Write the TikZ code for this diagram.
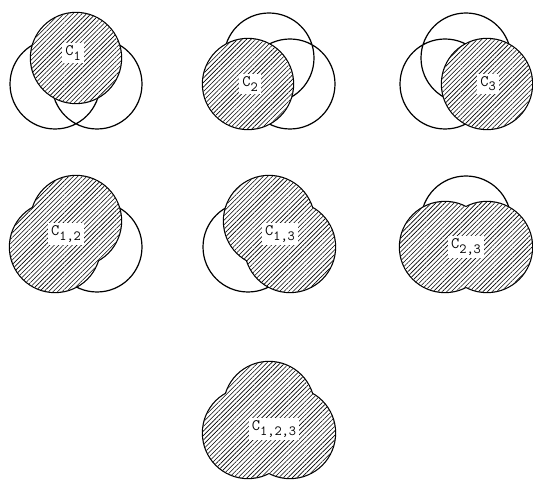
\documentclass[tikz,border=0pt]{standalone}
\usetikzlibrary{patterns.meta}
\newcommand\lowsub[1]{\raisebox{-.6ex}{\fontsize{14}{14}\selectfont#1}}

\begin{document}
\begin{tikzpicture}[x=1pt,y=1pt,
  ring/.style={line width=1.2pt},
  rim/.style={line width=2.4pt},
  hatch/.style={pattern={Lines[angle=45,distance=3.2pt,line width=0.6pt]}},
  tag/.style={fill=white,inner sep=3pt,font=\fontsize{16}{16}\ttfamily}]
\useasboundingbox (0,0) rectangle (533,485);
\def\rr{45pt}

% Row 1
\begin{scope}[shift={(76,401)}]
\coordinate (T) at (0,26); \coordinate (L) at (-21,0); \coordinate (R) at (21,0);
\draw[ring] (L) circle (\rr) (R) circle (\rr);
\draw[rim] (T) circle (\rr);
\fill[white] (T) circle (\rr);
\fill[hatch] (T) circle (\rr);
\node[tag] (c1) at (-3,31) {C\lowsub{1}};
\end{scope}

\begin{scope}[shift={(269,401)}]
\coordinate (T) at (0,26); \coordinate (L) at (-21,0); \coordinate (R) at (21,0);
\draw[ring] (T) circle (\rr) (R) circle (\rr);
\draw[rim] (L) circle (\rr);
\fill[white] (L) circle (\rr);
\fill[hatch] (L) circle (\rr);
\node[tag] (c2) at (-19,0) {C\lowsub{2}};
\end{scope}

\begin{scope}[shift={(466,401)}]
\coordinate (T) at (0,26); \coordinate (L) at (-21,0); \coordinate (R) at (21,0);
\draw[ring] (T) circle (\rr) (L) circle (\rr);
\draw[rim] (R) circle (\rr);
\fill[white] (R) circle (\rr);
\fill[hatch] (R) circle (\rr);
\node[tag] (c3) at (22,0) {C\lowsub{3}};
\end{scope}

% Row 2
\begin{scope}[shift={(76,238)}]
\coordinate (T) at (0,26); \coordinate (L) at (-21,0); \coordinate (R) at (21,0);
\draw[ring] (R) circle (\rr);
\draw[rim] (T) circle (\rr) (L) circle (\rr);
\fill[white] (T) circle (\rr) (L) circle (\rr);
\fill[hatch] (T) circle (\rr) (L) circle (\rr);
\node[tag] (c12) at (-10,13) {C\lowsub{1,2}};
\end{scope}

\begin{scope}[shift={(269,238)}]
\coordinate (T) at (0,26); \coordinate (L) at (-21,0); \coordinate (R) at (21,0);
\draw[ring] (L) circle (\rr);
\draw[rim] (T) circle (\rr) (R) circle (\rr);
\fill[white] (T) circle (\rr) (R) circle (\rr);
\fill[hatch] (T) circle (\rr) (R) circle (\rr);
\node[tag] (c13) at (11,13) {C\lowsub{1,3}};
\end{scope}

\begin{scope}[shift={(466,238)}]
\coordinate (T) at (0,26); \coordinate (L) at (-21,0); \coordinate (R) at (21,0);
\draw[ring] (T) circle (\rr);
\draw[rim] (L) circle (\rr) (R) circle (\rr);
\fill[white] (L) circle (\rr) (R) circle (\rr);
\fill[hatch] (L) circle (\rr) (R) circle (\rr);
\node[tag] (c23) at (0,0) {C\lowsub{2,3}};
\end{scope}

% Row 3
\begin{scope}[shift={(269,52)}]
\coordinate (T) at (0,26); \coordinate (L) at (-21,0); \coordinate (R) at (21,0);
\draw[rim] (T) circle (\rr) (L) circle (\rr) (R) circle (\rr);
\fill[white] (T) circle (\rr) (L) circle (\rr) (R) circle (\rr);
\fill[hatch] (T) circle (\rr) (L) circle (\rr) (R) circle (\rr);
\node[tag] (c123) at (5,4) {C\lowsub{1,2,3}};
\end{scope}

\end{tikzpicture}
\end{document}
